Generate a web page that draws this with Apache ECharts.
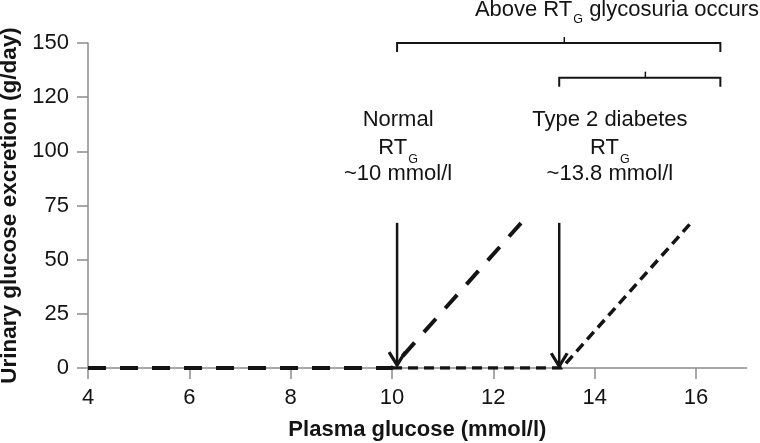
<!DOCTYPE html>
<html><head><meta charset="utf-8">
<script src="https://cdn.jsdelivr.net/npm/echarts@6/dist/echarts.min.js"></script>
<style>html,body{margin:0;padding:0;background:#fff}#c{width:760px;height:443px}</style>
</head><body><div id="c"></div>
<script>
// ---- data ----
const normalX = [4, 10.0, 12.55];
const normalY = [0, 0, 67];
const type2X = [10.0, 13.35, 15.9];
const type2Y = [0, 0, 67];
const xTicks = [4, 6, 8, 10, 12, 14, 16];
const yTickValues = [0, 25, 50, 75, 100, 125, 150];
const yTickLabels = ['0', '25', '50', '75', '100', '120', '150'];
// arrows (x, top value, tip value)
const arrowX = [10.1, 13.3];
const arrowTop = [67, 67];
const arrowTip = [1.3, 0.8];
// brackets
const bracketStart = [10.1, 13.3];
const bracketEnd = [16.48, 16.48];
const bracketMid = [13.4, 15.0];
const bracketLevel = [150, 134];
// annotation texts (one entry per line)
const labelLines = [
  ['Normal', 'RT{s|G}', '~10 mmol/l'],
  ['Type 2 diabetes', 'RT{s|G}', '~13.8 mmol/l'],
  ['Above RT{s2|G} glycosuria occurs']
];
const labelX = [10.12, 14.3, 14.44];
const labelY = [119.5, 119.5, 170.5];

const FONT = "'Liberation Sans', Arial, Helvetica, sans-serif";
const INK = '#141414';
const AXIS = '#8c8c8c';

const chart = echarts.init(document.getElementById('c'), null, {renderer: 'canvas'});

const richStyles = {
  t: {fontSize: 22, lineHeight: 22, verticalAlign: 'top', fontFamily: FONT, color: INK},
  s: {fontSize: 12.5, lineHeight: 46, fontFamily: FONT, color: INK, padding: [0, 0, 0, 1]},
  s2: {fontSize: 12.5, lineHeight: 42, fontFamily: FONT, color: INK, padding: [0, 0, 0, 1]}
};

function toRich(line) {
  const parts = line.split(/(\{s2?\|[^}]*\})/);
  return parts.filter(p => p.length).map(p => p.startsWith('{s') ? p : '{t|' + p + '}').join('');
}

chart.setOption({
  animation: false,
  backgroundColor: '#fff',
  grid: {left: 88, right: 13.3, top: 43, bottom: 75, containLabel: false, outerBoundsMode: 'none'},
  xAxis: {
    type: 'value', min: 4, max: 17, interval: 2,
    name: 'Plasma glucose (mmol/l)', nameLocation: 'middle', nameGap: 51,
    nameTextStyle: {fontSize: 22, fontWeight: 'bold', color: INK, fontFamily: FONT},
    axisLine: {show: true, lineStyle: {color: AXIS, width: 1.5}},
    axisTick: {show: true, length: 11, lineStyle: {color: AXIS, width: 1.5}, customValues: xTicks},
    axisLabel: {fontSize: 22, color: INK, fontFamily: FONT, margin: 19, customValues: xTicks},
    splitLine: {show: false}
  },
  yAxis: {
    type: 'value', min: 0, max: 150, interval: 25,
    name: 'Urinary glucose excretion (g/day)', nameLocation: 'middle', nameGap: 64,
    nameTextStyle: {fontSize: 22.5, fontWeight: 'bold', color: INK, fontFamily: FONT},
    axisLine: {show: true, lineStyle: {color: AXIS, width: 1.5}},
    axisTick: {show: true, length: 11, lineStyle: {color: AXIS, width: 1.5}},
    axisLabel: {fontSize: 22, color: INK, fontFamily: FONT, margin: 19,
      formatter: v => { const i = yTickValues.indexOf(v); return i >= 0 ? yTickLabels[i] : ''; }},
    splitLine: {show: false}
  },
  series: [
    {
      type: 'line', name: 'Type 2', symbol: 'none', z: 3,
      data: type2X.map((x, i) => [x, type2Y[i]]),
      lineStyle: {color: INK, width: 3.5, type: [10, 6]}
    },
    {
      type: 'line', name: 'Normal', symbol: 'none', z: 4,
      data: normalX.map((x, i) => [x, normalY[i]]),
      lineStyle: {color: INK, width: 4, type: [18, 14]}
    },
    {
      type: 'custom', name: 'arrows', z: 5, clip: false,
      data: arrowX.map((x, i) => [x, arrowTop[i], arrowTip[i]]),
      renderItem: (params, api) => {
        const top = api.coord([api.value(0), api.value(1)]);
        const tip = api.coord([api.value(0), api.value(2)]);
        return {type: 'group', children: [
          {type: 'line', shape: {x1: top[0], y1: top[1], x2: tip[0], y2: tip[1] - 2},
           style: {stroke: INK, lineWidth: 2.5}},
          {type: 'polyline', shape: {points: [[tip[0] - 8, tip[1] - 13], [tip[0], tip[1]], [tip[0] + 8, tip[1] - 13]]},
           style: {stroke: INK, lineWidth: 3.2, fill: null}}
        ]};
      }
    },
    {
      type: 'custom', name: 'brackets', z: 5, clip: false,
      data: bracketStart.map((x, i) => [x, bracketLevel[i], bracketEnd[i], bracketMid[i]]),
      renderItem: (params, api) => {
        const a = api.coord([api.value(0), api.value(1)]);
        const b = api.coord([api.value(2), api.value(1)]);
        const m = api.coord([api.value(3), api.value(1)]);
        return {type: 'group', children: [
          {type: 'polyline', shape: {points: [[a[0], a[1] + 9], [a[0], a[1]], [b[0], b[1]], [b[0], b[1] + 9]]},
           style: {stroke: INK, lineWidth: 2, fill: null}},
          {type: 'line', shape: {x1: m[0], y1: m[1], x2: m[0], y2: m[1] - 6},
           style: {stroke: INK, lineWidth: 1.5}}
        ]};
      }
    },
    {
      type: 'custom', name: 'labels', z: 6, clip: false,
      data: labelX.map((x, i) => [x, labelY[i]]),
      renderItem: (params, api) => {
        const p = api.coord([api.value(0), api.value(1)]);
        const lines = labelLines[params.dataIndex];
        const children = [];
        let top = p[1];
        lines.forEach(line => {
          children.push({type: 'text', x: p[0], y: top, style: {
            text: toRich(line), rich: richStyles,
            align: 'center', verticalAlign: 'top', textAlign: 'center', textVerticalAlign: 'top',
            fontFamily: FONT, fontSize: 22, fill: INK
          }});
          top += line.indexOf('{s') >= 0 ? 26.5 : 27.5;
        });
        return {type: 'group', children};
      }
    }
  ]
});
</script>
</body></html>
